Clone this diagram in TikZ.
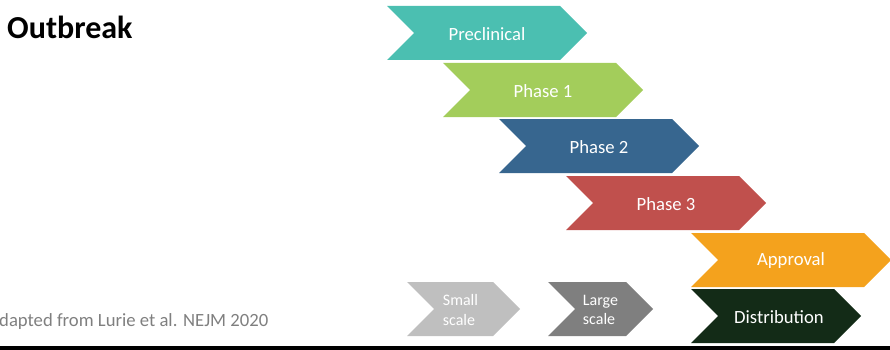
\documentclass[tikz,border=0pt]{standalone}
\usepackage{fontspec}
\setmainfont{Carlito}
\definecolor{cTeal}{HTML}{4BBFB1}
\definecolor{cGreen}{HTML}{A3CD5B}
\definecolor{cBlue}{HTML}{37668F}
\definecolor{cRed}{HTML}{C0504D}
\definecolor{cOrange}{HTML}{F4A21D}
\definecolor{cDark}{HTML}{132B17}
\definecolor{cLight}{HTML}{BFBFBF}
\definecolor{cGray}{HTML}{7F7F7F}
\definecolor{cNote}{HTML}{7F7F7F}
\tikzset{
  lbl/.style={text=white, font=\fontsize{18.67}{22}\selectfont, inner sep=0pt},
  smalllbl/.style={text=white, font=\fontsize{16}{19}\selectfont, inner sep=0pt, align=left},
}
% #1 name, #2 left x, #3 top y, #4 width, #5 colour, #6 label style, #7 text, #8 text x shift
\newcommand\chevshape[8]{%
  \fill[#5] (#2,#3) -- ++(#4-27,0) -- ++(27,27) -- ++(-27,27) -- ++(-#4+27,0) -- ++(27,-27) -- cycle;
  \node[#6] (#1) at (#2+#4/2+#8,#3+28) {#7};
}
\begin{document}
\begin{tikzpicture}[x=1pt,y=-1pt]
\useasboundingbox (0,0) rectangle (890,350);
\node[anchor=base west, inner sep=0pt, font=\bfseries\fontsize{32}{38}\selectfont] (title) at (7,38.5) {Outbreak};
\node[anchor=base west, inner sep=0pt, text=cNote, font=\fontsize{18.67}{22}\selectfont] (note) at (-1,326) {dapted from Lurie et al. NEJM 2020};
\chevshape{pre}{387}{6}{200}{cTeal}{lbl}{Preclinical}{0}
\chevshape{p1}{443}{63}{200}{cGreen}{lbl}{Phase 1}{0}
\chevshape{p2}{499}{119}{200}{cBlue}{lbl}{Phase 2}{0}
\chevshape{p3}{566}{176}{200}{cRed}{lbl}{Phase 3}{0}
\chevshape{appr}{691}{233}{200}{cOrange}{lbl}{Approval}{0}
\chevshape{dist}{691}{289}{170}{cDark}{lbl}{Distribution}{3}
\chevshape{small}{407}{282}{113}{cLight}{smalllbl}{Small\\scale}{-3}
\chevshape{large}{548}{282}{105}{cGray}{smalllbl}{Large\\scale}{0}
\fill[black] (0,346) rectangle (890,350);
\end{tikzpicture}
\end{document}
